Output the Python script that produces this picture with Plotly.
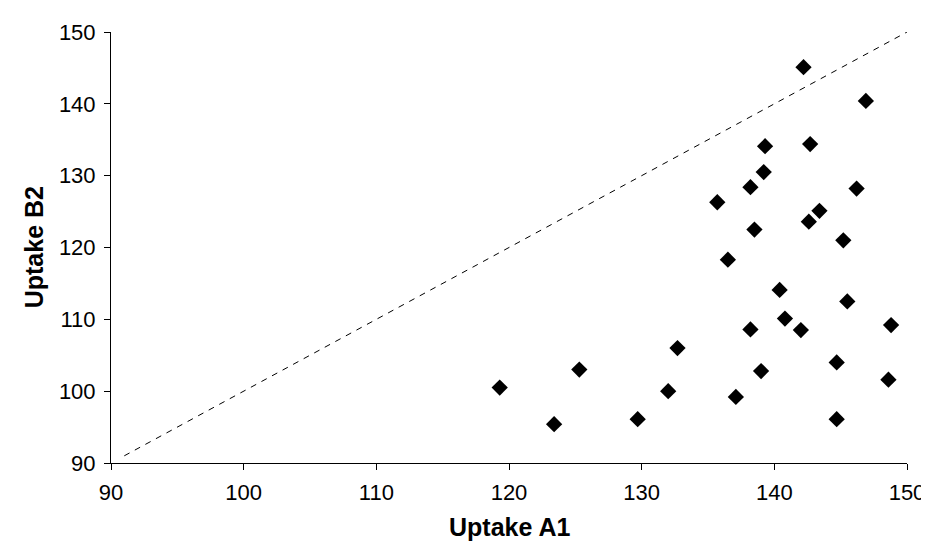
import plotly.graph_objects as go

# Data
uptake_a1 = [119.3, 123.4, 125.3, 129.7, 132.0, 132.7, 135.7, 136.5, 137.1, 138.2,
             138.2, 138.5, 139.0, 139.2, 139.3, 140.4, 140.8, 142.0, 142.2, 142.6,
             142.7, 143.4, 144.7, 144.7, 145.2, 145.5, 146.2, 146.9, 148.6, 148.8]
uptake_b2 = [100.5, 95.4, 103.0, 96.1, 100.0, 106.0, 126.3, 118.3, 99.2, 128.4,
             108.6, 122.5, 102.8, 130.5, 134.1, 114.1, 110.1, 108.5, 145.1, 123.6,
             134.4, 125.1, 104.0, 96.1, 121.0, 112.5, 128.2, 140.4, 101.6, 109.2]
ref_line = [91, 150.5]
tick_vals = [90, 100, 110, 120, 130, 140, 150]

FONT = "Liberation Sans, Arial, sans-serif"

fig = go.Figure()
fig.add_trace(go.Scatter(
    x=ref_line, y=ref_line, mode="lines",
    line=dict(color="black", width=1, dash="6px,6px"),
    hoverinfo="skip", showlegend=False, cliponaxis=False))
fig.add_trace(go.Scatter(
    x=uptake_a1, y=uptake_b2, mode="markers",
    marker=dict(symbol="diamond", size=12.5, color="black", line=dict(width=0)),
    showlegend=False, cliponaxis=False))

axis_common = dict(
    range=[90, 150], tickvals=tick_vals, showgrid=False, zeroline=False,
    showline=True, linecolor="black", linewidth=1,
    ticks="outside", ticklen=6, tickcolor="black", tickwidth=1,
    ticklabelstandoff=4,
    tickfont=dict(family=FONT, size=22, color="black"), mirror=False)

fig.update_xaxes(**axis_common)
fig.update_yaxes(**axis_common)

fig.update_layout(
    width=929, height=543,
    margin=dict(l=103, r=20, t=22, b=88),
    plot_bgcolor="white", paper_bgcolor="white",
    font=dict(family=FONT, color="black"),
    annotations=[
        dict(text="<b>Uptake A1</b>", xref="paper", yref="paper", x=0.5, y=-0.148,
             xanchor="center", yanchor="middle", showarrow=False,
             font=dict(family=FONT, size=25, color="black")),
        dict(text="<b>Uptake B2</b>", xref="paper", yref="paper", x=-0.097, y=0.5,
             xanchor="center", yanchor="middle", textangle=-90, showarrow=False,
             font=dict(family=FONT, size=25, color="black")),
    ])

fig.write_html("out.html")
